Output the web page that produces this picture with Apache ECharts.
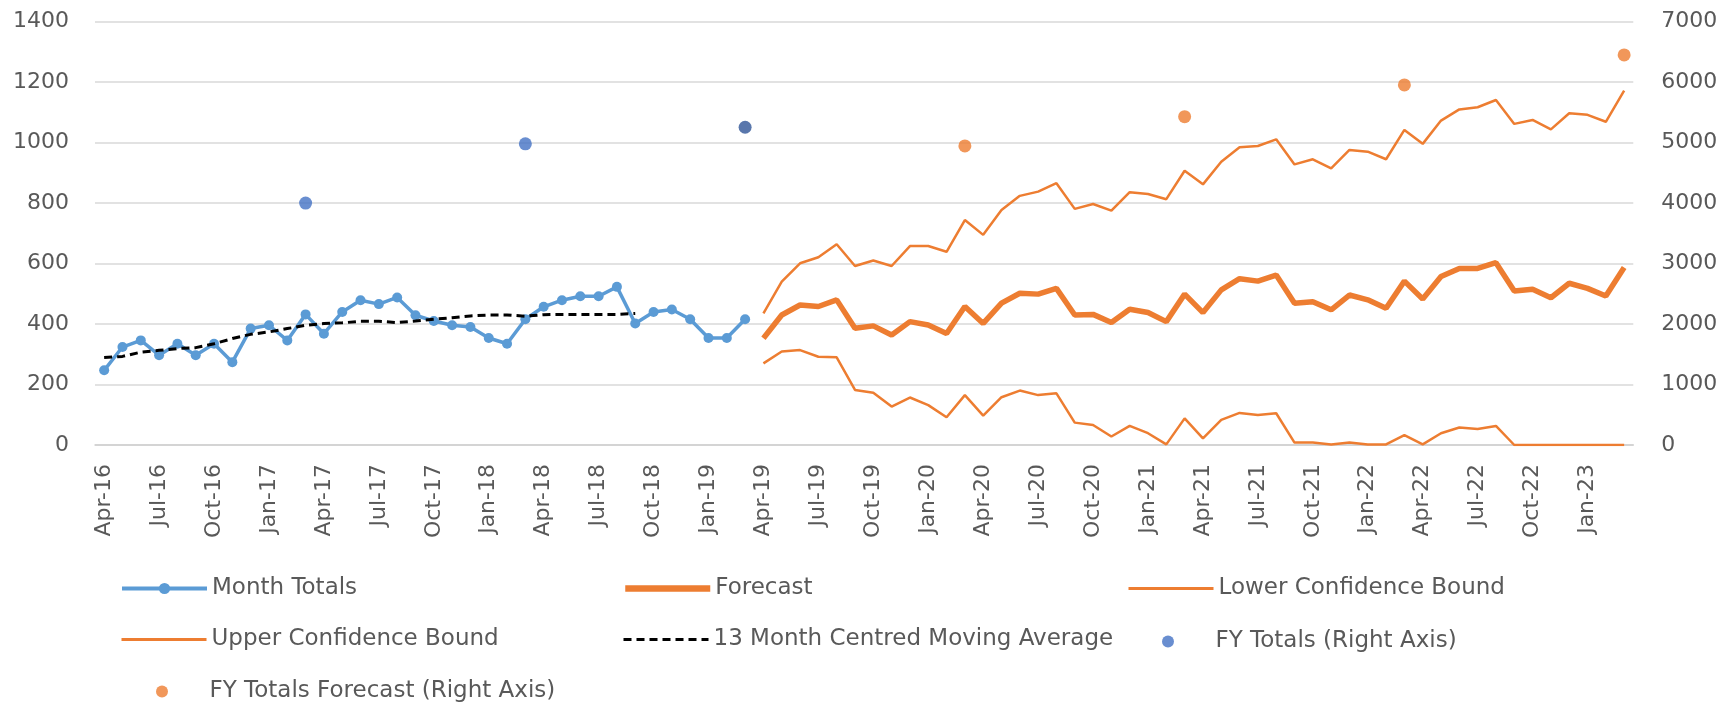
<!DOCTYPE html>
<html lang="en">
<head>
    <meta charset="UTF-8">
    <title>Month Totals and Forecast</title>
    <style>
        body {
            margin: 0;
            padding: 0;
            background-color: #fff;
        }
        #chart {
            width: 1721px;
            height: 702px;
        }
    </style>
    <script src="https://cdn.jsdelivr.net/npm/echarts@6/dist/echarts.min.js"></script>
</head>
<body>
<div id="chart"></div>
<script>
	// months Apr-16 .. Mar-23
	var monthNames = ['Jan', 'Feb', 'Mar', 'Apr', 'May', 'Jun', 'Jul', 'Aug', 'Sep', 'Oct', 'Nov', 'Dec'];
	var months = [];
	for (var m = 3; m < 3 + 84; m++) {
		months.push(monthNames[m % 12] + '-' + (16 + Math.floor(m / 12)));
	}

	var monthTotals = [247, 324, 346, 297, 335, 297, 335, 274, 385, 396, 346, 432,
		368, 440, 479, 466, 488, 429, 410, 396, 390, 354, 335, 416,
		457, 479, 492, 492, 523, 402, 440, 448, 416, 354, 354, 416];

	var movingAvg = [289, 293, 307, 313, 319, 322, 335, 352, 366, 374, 385, 396,
		402, 404, 409, 409, 405, 410, 416, 421, 427, 430, 430, 426,
		431, 432, 432, 432, 432, 435];

	// Apr-19 .. Mar-23
	var forecast = [353, 430, 463, 458, 480, 386, 394, 364, 408, 397, 369, 458,
		402, 469, 502, 499, 518, 430, 432, 405, 449, 438, 408, 499,
		438, 513, 550, 542, 562, 469, 474, 447, 496, 480, 452, 542,
		483, 557, 584, 584, 603, 509, 515, 487, 535, 518, 493, 587];
	var upperBound = [435, 540, 601, 621, 664, 592, 610, 592, 658, 658, 639, 744,
		695, 777, 824, 838, 866, 781, 797, 775, 836, 830, 813, 907,
		862, 937, 985, 989, 1011, 928, 945, 915, 976, 970, 945, 1042,
		996, 1073, 1110, 1117, 1141, 1062, 1075, 1044, 1097, 1092, 1069, 1172];
	var lowerBound = [270, 309, 314, 292, 290, 182, 173, 127, 157, 132, 92, 165,
		97, 158, 180, 165, 171, 74, 66, 28, 63, 39, 2, 88,
		22, 83, 106, 99, 105, 8, 8, 2, 8, 2, 2, 33,
		2, 39, 58, 53, 63, 0, 0, 0, 0, 0, 0, 0];

	var fyMonths = ['Mar-17', 'Mar-18', 'Mar-19'];
	var fyTotals = [4000, 4980, 5255];
	var fyForecastMonths = ['Mar-20', 'Mar-21', 'Mar-22', 'Mar-23'];
	var fyForecast = [4945, 5430, 5954, 6450];

	var forecastStart = months.indexOf('Apr-19');

	var padTo = function (arr, offset) {
		var res = [];
		for (var i = 0; i < offset; i++) res.push(null);
		return res.concat(arr);
	};
	var pairs = function (xs, ys) {
		return xs.map(function (x, i) { return [x, ys[i]]; });
	};

	var fyData = pairs(fyMonths, fyTotals);
	fyData[2] = {value: fyData[2], itemStyle: {color: '#2f5597'}};

	var font = 'DejaVu Sans';
	var grey = '#595959';

	// kind: 'dot' = line with marker, 'line' = plain line, 'scatter' = dot only
	var legendAt = function (name, left, top, kind, lw) {
		var l = {
			data: [kind === 'scatter' ? {name: name, icon: 'circle'} : name],
			left: left,
			top: top,
			padding: 0,
			itemWidth: 85,
			itemHeight: kind === 'scatter' ? 12 : 14,
			itemGap: 0,
			selectedMode: false,
			textStyle: {fontFamily: font, fontSize: 23, color: grey}
		};
		if (lw) l.lineStyle = {width: lw};
		if (kind === 'line') l.itemStyle = {opacity: 0};
		return l;
	};

	var plain = function (v) { return String(v); };

	var chart = echarts.init(document.getElementById('chart'));
	var option = {
		animation: false,
		backgroundColor: '#fff',
		grid: {left: 95, top: 21.7, width: 1538.3, height: 423.3, containLabel: false},
		legend: [
			legendAt('Month Totals', 120, 577, 'dot', 4),
			legendAt('Forecast', 622, 577, 'line', 6.5),
			legendAt('Lower Confidence Bound', 1127, 577, 'line', 3),
			legendAt('Upper Confidence Bound', 120, 628, 'line', 3),
			legendAt('13 Month Centred Moving Average', 622, 628, 'line', 3),
			legendAt('FY Totals (Right Axis)', 1162, 630, 'scatter'),
			legendAt('FY Totals Forecast (Right Axis)', 156, 680, 'scatter')
		],
		xAxis: {
			type: 'category',
			data: months,
			boundaryGap: true,
			axisLine: {lineStyle: {color: '#cfcfcf', width: 1.5}},
			axisTick: {
				length: 7,
				interval: function (i) { return i % 3 === 0; },
				lineStyle: {color: '#cfcfcf', width: 1.5}
			},
			axisLabel: {
				interval: function (i) { return i % 3 === 0; },
				rotate: 90,
				margin: 19,
				fontFamily: font,
				fontSize: 22,
				color: grey
			},
			splitLine: {show: false}
		},
		yAxis: [
			{
				type: 'value',
				min: 0,
				max: 1400,
				interval: 200,
				axisLine: {show: false},
				axisTick: {show: false},
				axisLabel: {margin: 26, fontFamily: font, fontSize: 22, color: grey, formatter: plain},
				splitLine: {lineStyle: {color: '#d9d9d9', width: 1.5}}
			},
			{
				type: 'value',
				min: 0,
				max: 7000,
				interval: 1000,
				axisLine: {show: false},
				axisTick: {show: false},
				axisLabel: {margin: 28, fontFamily: font, fontSize: 22, color: grey, formatter: plain},
				splitLine: {show: false}
			}
		],
		series: [
			{
				name: 'Month Totals',
				type: 'line',
				data: monthTotals,
				symbol: 'circle',
				symbolSize: 10,
				color: '#5b9bd5',
				lineStyle: {width: 3.5, color: '#5b9bd5'},
				z: 3
			},
			{
				name: 'Forecast',
				type: 'line',
				data: padTo(forecast, forecastStart),
				symbol: 'none',
				color: '#ed7d31',
				lineStyle: {width: 5.5, color: '#ed7d31'},
				z: 3
			},
			{
				name: 'Lower Confidence Bound',
				type: 'line',
				data: padTo(lowerBound, forecastStart),
				symbol: 'none',
				color: '#ed7d31',
				lineStyle: {width: 2.5, color: '#ed7d31'}
			},
			{
				name: 'Upper Confidence Bound',
				type: 'line',
				data: padTo(upperBound, forecastStart),
				symbol: 'none',
				color: '#ed7d31',
				lineStyle: {width: 2.5, color: '#ed7d31'}
			},
			{
				name: '13 Month Centred Moving Average',
				type: 'line',
				data: movingAvg,
				symbol: 'none',
				color: '#000',
				lineStyle: {width: 3, color: '#000', type: [8, 5]},
				z: 4
			},
			{
				name: 'FY Totals (Right Axis)',
				type: 'scatter',
				yAxisIndex: 1,
				data: fyData,
				symbolSize: 13,
				itemStyle: {color: '#4472c4'}
			},
			{
				name: 'FY Totals Forecast (Right Axis)',
				type: 'scatter',
				yAxisIndex: 1,
				data: pairs(fyForecastMonths, fyForecast),
				symbolSize: 13,
				itemStyle: {color: '#ed7d31'}
			}
		]
	};
	chart.setOption(option);
</script>
</body>
</html>
